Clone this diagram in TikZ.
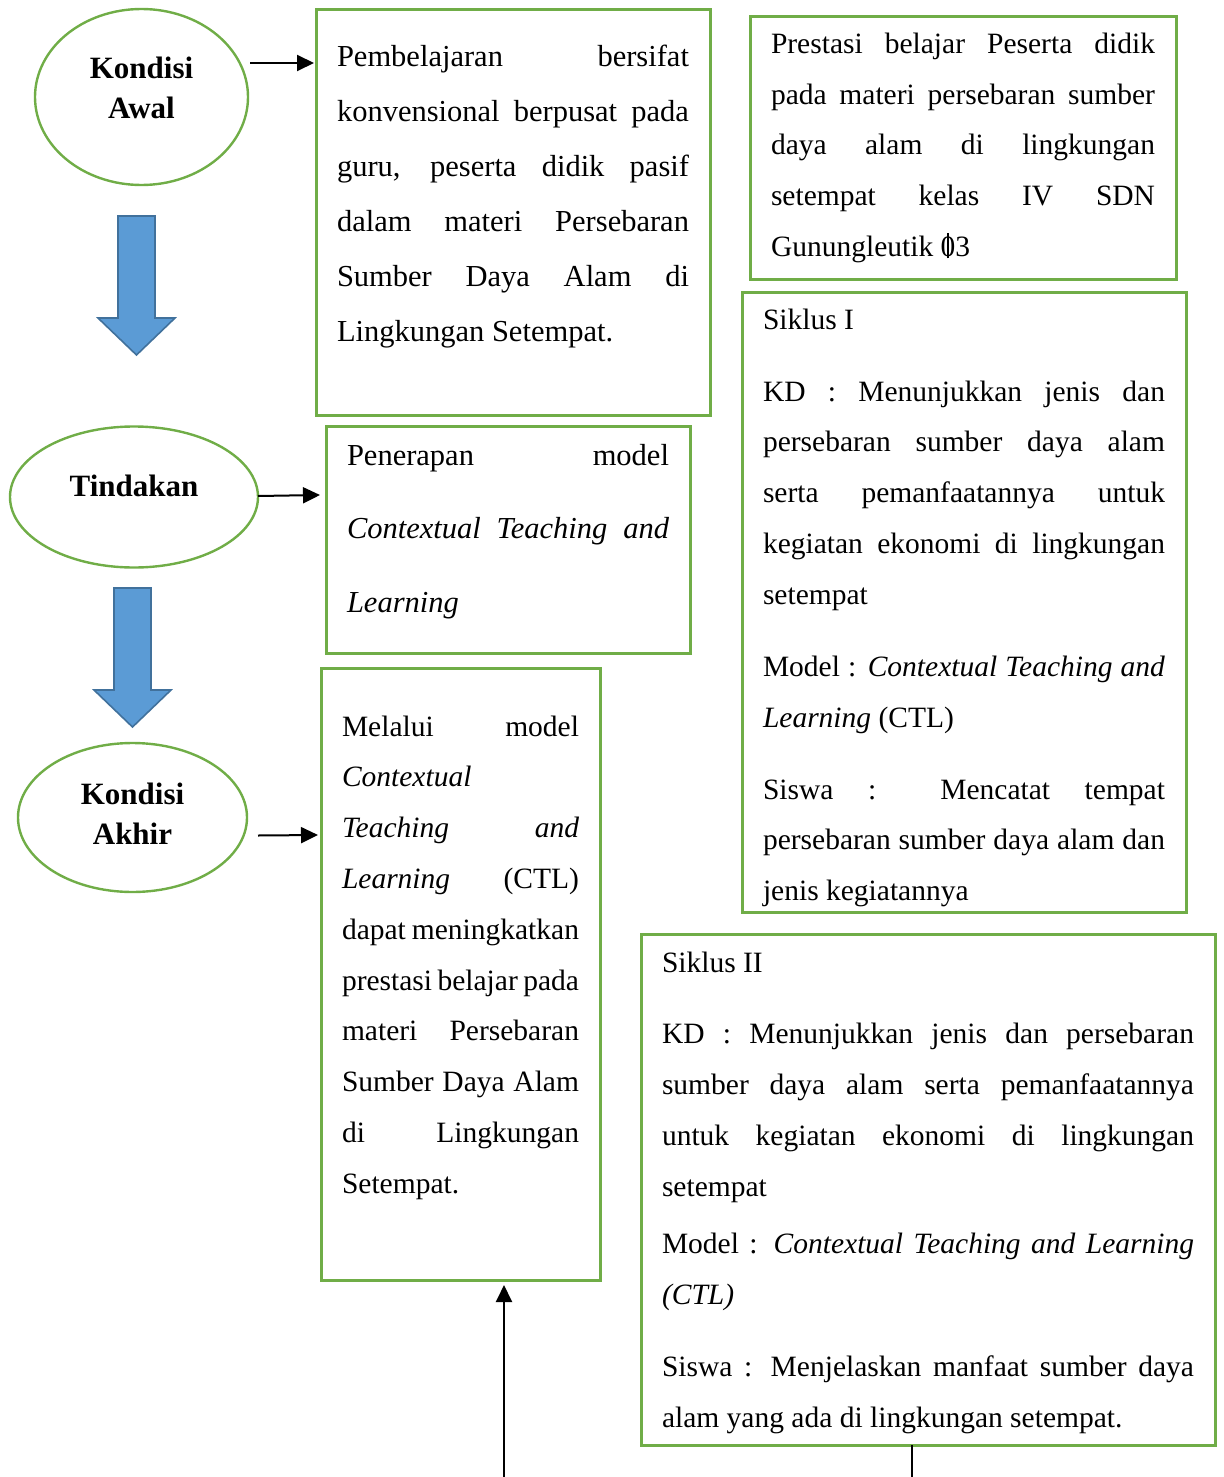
\documentclass[tikz,border=0pt]{standalone}
\usepackage{fontspec}
\setmainfont{Liberation Serif}
\usetikzlibrary{shapes.geometric,arrows.meta}
\definecolor{hijau}{RGB}{112,173,71}
\definecolor{biru}{RGB}{91,155,213}
\definecolor{birutua}{RGB}{65,113,156}
% one justified line of a box
\newcommand{\jl}[1]{\makebox[\linewidth][s]{#1}}
% [font size]{width}{height}{line skip}{first line height}{text}
\newcommand{\boxtxt}[6][14.75]{\parbox[c][#3][t]{#2}{\fontsize{#1}{#4}\selectfont\rule{0pt}{#5}\ignorespaces#6}}
\newcommand{\nolcoret}{\ooalign{0\cr\hidewidth\rule[-0.08em]{0.06em}{0.86em}\hidewidth}}
\begin{document}
\begin{tikzpicture}[x=0.5pt,y=-0.5pt,
  kotak/.style={draw=hijau,line width=1.5pt,inner xsep=10.5pt,inner ysep=0pt,outer sep=0pt,anchor=north west},
  elips/.style={ellipse,draw=hijau,line width=1.2pt,inner sep=0pt,outer sep=0pt,align=center,font=\fontsize{15.5}{20}\selectfont\bfseries},
  panah/.style={line width=1pt,-{Triangle[length=8.5pt,width=8pt]}},
  panahbiru/.style={fill=biru,draw=birutua,line width=0.8pt,line join=miter}]
\useasboundingbox (0,0) rectangle (1224,1477);
% left column
\node[elips,minimum width=106.5pt,minimum height=88pt,text depth=9pt] (awal) at (141.5,97) {Kondisi\\Awal};
\node[elips,minimum width=124pt,minimum height=70.5pt,text depth=11pt] (tind) at (134,497) {Tindakan};
\node[elips,minimum width=114.5pt,minimum height=74.5pt,text depth=3.5pt] (akhir) at (132.5,817.5) {Kondisi\\Akhir};
\foreach \cx/\ty in {136.5/216,132.5/588}
  \draw[panahbiru] (\cx-18.5,\ty) -- ++(37,0) -- ++(0,102) -- ++(20,0) -- (\cx,\ty+139) -- (\cx-38.5,\ty+102) -- ++(20,0) -- cycle;
% boxes
\node[kotak] (pemb) at (316,10) {\boxtxt[15.25]{176pt}{202.5pt}{27.5pt}{28pt}{\jl{Pembelajaran bersifat}\\
\jl{konvensional berpusat pada}\\
\jl{guru, peserta didik pasif}\\
\jl{dalam materi Persebaran}\\
\jl{Sumber Daya Alam di}\\
Lingkungan Setempat.}};
\node[kotak] (pen) at (326,426) {\boxtxt[15.25]{161pt}{113.5pt}{36.75pt}{19.5pt}{\jl{Penerapan model}\\
\jl{\itshape Contextual Teaching and}\\
\textit{Learning}}};
\node[kotak] (mel) at (321,668) {\boxtxt{118.5pt}{306pt}{25.4pt}{34pt}{\jl{Melalui model}\\
\textit{Contextual}\\
\jl{\itshape Teaching and}\\
\jl{\textit{Learning} (CTL)}\\
\jl{dapat meningkatkan}\\
\jl{prestasi belajar pada}\\
\jl{materi Persebaran}\\
\jl{Sumber Daya Alam}\\
\jl{di Lingkungan}\\
Setempat.}};
\node[kotak] (prest) at (750,17) {\boxtxt{192pt}{131pt}{25.25pt}{18.5pt}{\jl{Prestasi belajar Peserta didik}\\
\jl{pada materi persebaran sumber}\\
\jl{daya alam di lingkungan}\\
\jl{setempat kelas IV SDN}\\
Gunungleutik \nolcoret3}};
\node[kotak] (sik1) at (742,292) {\boxtxt{201pt}{310pt}{25.4pt}{18.5pt}{Siklus I\\[10.6pt]
\jl{KD : Menunjukkan jenis dan}\\
\jl{persebaran sumber daya alam}\\
\jl{serta pemanfaatannya untuk}\\
\jl{kegiatan ekonomi di lingkungan}\\
setempat\\[10.6pt]
\jl{Model : \textit{Contextual Teaching and}}\\
\textit{Learning} (CTL)\\[10.6pt]
\jl{Siswa : Mencatat tempat}\\
\jl{persebaran sumber daya alam dan}\\
jenis kegiatannya}};
\node[kotak] (sik2) at (641,934) {\boxtxt{266pt}{255.5pt}{25.35pt}{19pt}{Siklus II\\[10.6pt]
\jl{KD : Menunjukkan jenis dan persebaran}\\
\jl{sumber daya alam serta pemanfaatannya}\\
\jl{untuk kegiatan ekonomi di lingkungan}\\
setempat\\[3.6pt]
\jl{Model : \textit{Contextual Teaching and Learning}}\\
\textit{(CTL)}\\[10.6pt]
\jl{Siswa : Menjelaskan manfaat sumber daya}\\
alam yang ada di lingkungan setempat.}};
% connectors
\draw[panah] ([shift={(2,-34)}]awal.east) -- ([shift={(-2,53)}]pemb.north west);
\draw[panah] ([shift={(0,-1)}]tind.east) -- ([shift={(-6,69)}]pen.north west);
\draw[panah] ([shift={(11,18)}]akhir.east) -- ([shift={(-3,167)}]mel.north west);
\coordinate (bawah1) at (504,1477);
\coordinate (bawah2) at (912,1477);
\draw[panah] (bawah1) -- ([shift={(43.5,5)}]mel.south);
\draw[line width=1pt] (sik2.south -| bawah2) -- (bawah2);
\end{tikzpicture}
\end{document}
